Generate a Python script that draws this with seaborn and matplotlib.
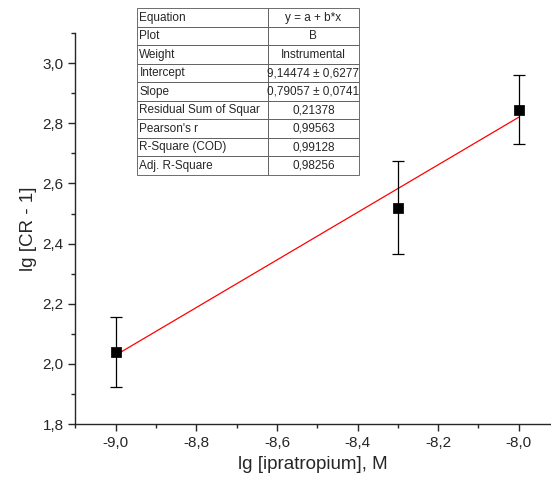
import matplotlib
matplotlib.use("Agg")
import matplotlib.pyplot as plt
from matplotlib.ticker import MultipleLocator, FuncFormatter
import numpy as np
import pandas as pd
import seaborn as sns

# measured points
lg_conc = [-9.0, -8.3, -8.0]
lg_cr = [2.04, 2.52, 2.845]
err = [0.115, 0.155, 0.115]

# linear fit from the table
intercept = 9.14474
slope = 0.79057
fit_x = [-9.0, -8.0]

table_labels = ["Equation", "Plot", "Weight", "Intercept", "Slope",
                "Residual Sum of Squar", "Pearson's r", "R-Square (COD)",
                "Adj. R-Square"]
table_values = ["y = a + b*x", "B", "Instrumental", "9,14474 ± 0,6277",
                "0,79057 ± 0,0741", "0,21378", "0,99563", "0,99128", "0,98256"]

sns.set_style("ticks")
plt.rcParams['font.family'] = ['Liberation Sans', 'DejaVu Sans']

df = pd.DataFrame({'x': lg_conc, 'y': lg_cr, 'err': err})
fit = pd.DataFrame({'x': fit_x, 'y': [intercept + slope * v for v in fit_x]})

fig = plt.figure(figsize=(5.51, 4.82), dpi=100)
ax = fig.add_axes([0.137, 0.120, 0.863, 0.8115])

sns.lineplot(data=fit, x='x', y='y', color='red', lw=0.9, ax=ax)
ax.errorbar(df['x'], df['y'], yerr=df['err'], fmt='none', ecolor='black',
            elinewidth=0.9, capsize=4, capthick=0.9)
sns.scatterplot(data=df, x='x', y='y', marker='s', color='black', s=45,
                edgecolor='black', zorder=5, ax=ax)

ax.set_xlim(-9.1, -7.92)
ax.set_ylim(1.8, 3.1)
ax.xaxis.set_major_locator(MultipleLocator(0.2))
ax.xaxis.set_minor_locator(MultipleLocator(0.1))
ax.yaxis.set_major_locator(MultipleLocator(0.2))
ax.yaxis.set_minor_locator(MultipleLocator(0.1))
comma = FuncFormatter(lambda v, p: f"{v:.1f}".replace('.', ','))
ax.xaxis.set_major_formatter(comma)
ax.yaxis.set_major_formatter(comma)
ax.tick_params(which='major', direction='out', length=5, width=1, labelsize=11)
ax.tick_params(which='minor', direction='out', length=3, width=1)
for s in ['top', 'right']:
    ax.spines[s].set_visible(False)
for s in ['left', 'bottom']:
    ax.spines[s].set_linewidth(1)

ax.set_xlabel('lg [ipratropium], M', fontsize=13.5)
ax.set_ylabel('lg [CR - 1]', fontsize=13.5)

cells = [[a, b] for a, b in zip(table_labels, table_values)]
tbl = ax.table(cellText=cells, colWidths=[0.59, 0.41],
               bbox=[0.129, 0.637, 0.467, 0.426], cellLoc='center')
tbl.auto_set_font_size(False)
tbl.set_fontsize(8.5)
for (r, c), cell in tbl.get_celld().items():
    cell.set_linewidth(0.6)
    cell.set_edgecolor('#555555')
    cell.set_clip_on(False)
    if c == 0:
        cell.get_text().set_ha('left')
        cell.PAD = 0.02

fig.savefig('out.png', dpi=100)
